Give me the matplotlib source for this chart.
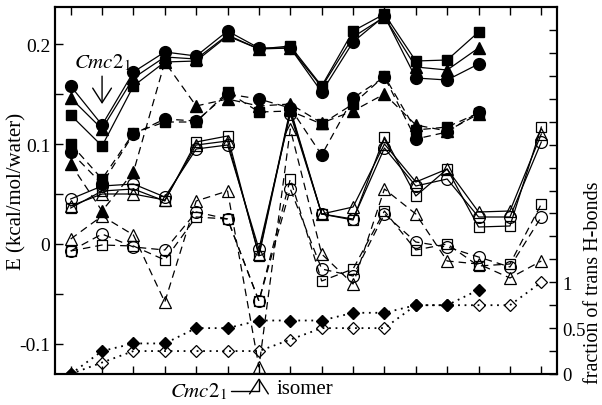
import numpy as np
import matplotlib
matplotlib.use('Agg')
import matplotlib.pyplot as plt

plt.rcParams['font.family'] = 'Liberation Serif'
plt.rcParams['mathtext.fontset'] = 'stix'

isomer = np.arange(16)

# energies, filled markers, solid lines
A_circ = [0.158, 0.119, 0.172, 0.192, 0.188, 0.213, 0.196, 0.196, 0.152, 0.202, 0.228, 0.166, 0.164, 0.180]
A_tri = [0.146, 0.115, 0.166, 0.187, 0.185, 0.209, 0.195, 0.196, 0.157, 0.207, 0.227, 0.177, 0.174, 0.196]
A_sq = [0.129, 0.098, 0.158, 0.182, 0.183, 0.208, 0.195, 0.198, 0.158, 0.213, 0.230, 0.183, 0.184, 0.212]

# filled markers, dashed lines
B_circ = [0.092, 0.060, 0.110, 0.125, 0.123, 0.150, 0.145, 0.136, 0.089, 0.146, 0.167, 0.105, 0.112, 0.132]
B_tri = [0.080, 0.033, 0.072, 0.182, 0.138, 0.145, 0.138, 0.140, 0.121, 0.133, 0.150, 0.119, 0.113, 0.130]
B_sq = [0.100, 0.065, 0.111, 0.122, 0.122, 0.152, 0.132, 0.133, 0.120, 0.140, 0.168, 0.114, 0.117, 0.131]

# open markers, solid lines
C_circ = [0.045, 0.058, 0.060, 0.047, 0.095, 0.099, -0.005, 0.130, 0.030, 0.025, 0.096, 0.058, 0.065, 0.027, 0.027, 0.102]
C_tri = [0.038, 0.050, 0.050, 0.044, 0.099, 0.103, -0.010, 0.135, 0.030, 0.037, 0.100, 0.062, 0.075, 0.032, 0.033, 0.110]
C_sq = [0.036, 0.053, 0.055, 0.043, 0.102, 0.108, -0.012, 0.133, 0.030, 0.024, 0.107, 0.048, 0.075, 0.017, 0.018, 0.117]

# open markers, dashed lines
D_circ = [-0.007, 0.010, -0.003, -0.006, 0.032, 0.025, -0.057, 0.055, -0.025, -0.032, 0.030, 0.002, -0.003, -0.013, -0.023, 0.027]
D_sq = [-0.007, -0.001, -0.002, -0.016, 0.027, 0.025, -0.057, 0.065, -0.037, -0.025, 0.033, -0.006, 0.000, -0.022, -0.020, 0.040]
D_tri = [0.005, 0.028, 0.009, -0.058, 0.043, 0.053, -0.123, 0.115, -0.010, -0.040, 0.055, 0.030, -0.017, -0.020, -0.034, -0.017]

# fraction of trans H-bonds (right axis)
frac_filled = [0, 0.25, 0.333, 0.333, 0.5, 0.5, 0.583, 0.583, 0.583, 0.667, 0.667, 0.75, 0.75, 0.917]
frac_open = [0, 0.125, 0.25, 0.25, 0.25, 0.25, 0.25, 0.375, 0.5, 0.5, 0.5, 0.75, 0.75, 0.75, 0.75, 1.0]

fig = plt.figure(figsize=(6.02, 4.06), dpi=100)
ax = fig.add_axes([55/602, 31/406, 502/602, 367/406])
ax2 = ax.twinx()

dash = (0, (6, 4))
lw = 0.9
sizes = {'o': 8.5, '^': 8.5, 's': 7.5}

for ys, m in [(A_circ, 'o'), (A_tri, '^'), (A_sq, 's')]:
    ax.plot(isomer[:len(ys)], ys, color='k', lw=lw, marker=m, ms=sizes[m], mfc='k', mec='k')
for ys, m in [(B_circ, 'o'), (B_tri, '^'), (B_sq, 's')]:
    ax.plot(isomer[:len(ys)], ys, color='k', lw=lw, ls=dash, marker=m, ms=sizes[m], mfc='k', mec='k')
for ys, m in [(C_circ, 'o'), (C_tri, '^'), (C_sq, 's')]:
    ax.plot(isomer[:len(ys)], ys, color='k', lw=lw, marker=m, ms=sizes[m], mfc='none', mec='k', mew=0.9)
for ys, m in [(D_circ, 'o'), (D_tri, '^'), (D_sq, 's')]:
    ax.plot(isomer[:len(ys)], ys, color='k', lw=lw, ls=dash, marker=m, ms=sizes[m], mfc='none', mec='k', mew=0.9)

dots = (0, (1, 2.6))
ax2.plot(isomer[:len(frac_filled)], frac_filled, color='k', lw=1.3, ls=dots, marker='D', ms=6.5, mfc='k', mec='k')
ax2.plot(isomer[:len(frac_open)], frac_open, color='k', lw=1.3, ls=dots, marker='D', ms=6.5, mfc='none', mec='k', mew=0.9)

ax.set_xlim(-0.5, 15.5)
ax.set_ylim(-0.130, 0.237)
ax2.set_ylim(0, 4.0)

ax.set_xticks(isomer)
ax.set_xticklabels([])
ax.set_yticks([-0.1, 0, 0.1, 0.2])
ax.set_yticklabels(['-0.1', '0', '0.1', '0.2'])
ax.set_yticks([-0.05, 0.05, 0.15], minor=True)
ax.tick_params(axis='x', which='both', direction='in', top=True, bottom=True, length=6, width=1)
ax.tick_params(axis='y', which='both', direction='in', left=True, right=False, length=6, width=1, labelsize=14)

rticks = np.arange(0, 4.0, 0.25)
ax2.set_yticks(rticks)
ax2.set_yticklabels(['0', '', '0.5', '', '1'] + [''] * (len(rticks) - 5))
ax2.tick_params(axis='y', direction='in', length=6, width=1, labelsize=13.5, pad=4)

for a in (ax, ax2):
    for s in a.spines.values():
        s.set_linewidth(1.5)

fig.text(17/602, 1 - 191.5/406, 'E (kcal/mol/water)', rotation=90, ha='center', va='center', fontsize=15)
fig.text(594/602, 1 - 283/406, 'fraction of trans H-bonds', rotation=90, ha='center', va='center', fontsize=14.5)
fig.text(305/602, 1 - 390/406, 'isomer', ha='center', va='center', fontsize=15)

ax.annotate(r'$\mathit{Cmc2}_1$', xy=(1, 0.140), xytext=(1, 0.172), ha='center', va='bottom', fontsize=15,
            arrowprops=dict(arrowstyle='->,head_length=0.7,head_width=0.45', lw=1, color='k', shrinkA=1, shrinkB=0))
ax.annotate(r'$\mathit{Cmc2}_1$', xy=(6, -0.011), xycoords=('data', 'axes fraction'),
            xytext=(198, 406 - 392), textcoords='figure pixels', ha='center', va='center', fontsize=15,
            arrowprops=dict(arrowstyle='->,head_length=0.7,head_width=0.45', lw=1, color='k', shrinkA=1, shrinkB=0,
                            connectionstyle='angle,angleA=0,angleB=90,rad=0'),
            annotation_clip=False)

fig.savefig('out.png', dpi=100)
